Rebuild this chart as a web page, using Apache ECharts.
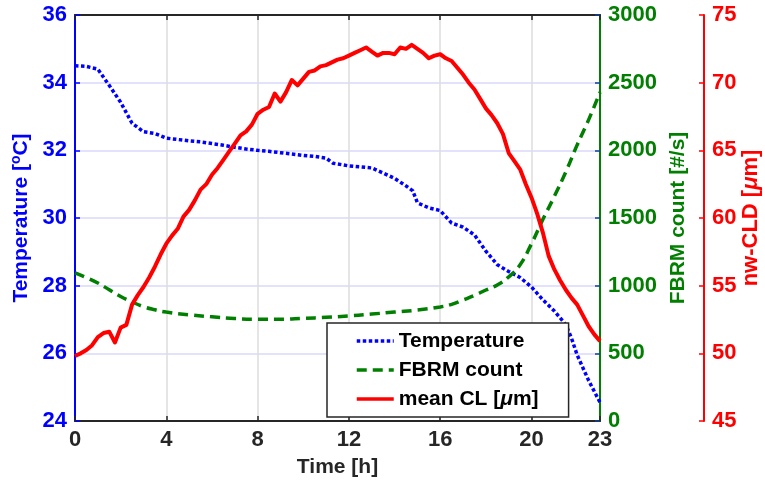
<!DOCTYPE html>
<html>
<head>
<meta charset="utf-8">
<script src="https://cdn.jsdelivr.net/npm/echarts@6/dist/echarts.min.js"></script>
<style>
  html, body { margin: 0; padding: 0; background: #ffffff; }
  #chart { width: 765px; height: 492px; }
</style>
</head>
<body>
<div id="chart"></div>
<script>
// Tick positions on the time axis
const xTicks = [0, 4, 8, 12, 16, 20, 23];

// Temperature [°C] vs time [h]
const tempTime = [0, 0.5, 1.0, 1.5, 2.0, 2.5, 3.0, 3.5, 4.0, 4.5, 5.0, 5.5, 6.0, 6.5, 7.0, 7.5, 8.0, 8.5, 9.0, 9.5,
  10.0, 10.5, 11.0, 11.3, 12.0, 12.5, 13.0, 13.5, 14.0, 14.5, 14.8, 15.0, 15.5, 16.0, 16.5, 17.0, 17.5, 18.0, 18.5,
  19.0, 19.5, 20.0, 20.5, 21.0, 21.5, 21.75, 22.0, 22.5, 23.0];
const tempValues = [34.50, 34.48, 34.40, 33.92, 33.42, 32.80, 32.55, 32.50, 32.36, 32.32, 32.28, 32.25, 32.20, 32.15,
  32.09, 32.04, 32.00, 31.97, 31.93, 31.89, 31.85, 31.82, 31.77, 31.62, 31.54, 31.51, 31.48, 31.33, 31.17, 30.95,
  30.80, 30.45, 30.30, 30.22, 29.85, 29.73, 29.50, 29.02, 28.62, 28.42, 28.24, 27.96, 27.58, 27.25, 26.85, 26.45,
  25.95, 25.20, 24.55];

// FBRM count [#/s] vs time [h]
const fbrmTime = [0, 0.5, 1, 1.5, 2, 2.5, 3, 3.5, 4, 5, 6, 7, 8, 9, 10, 11, 12, 13, 14, 15, 16, 16.5, 17, 17.5, 18,
  18.5, 19, 19.5, 20, 20.5, 21, 21.5, 22, 22.5, 23];
const fbrmValues = [1095, 1060, 1020, 970, 920, 880, 845, 822, 805, 785, 770, 757, 752, 752, 758, 766, 776, 790, 805,
  820, 843, 862, 894, 928, 968, 1005, 1065, 1155, 1310, 1490, 1660, 1840, 2040, 2225, 2430];

// Mean chord length nw-CLD [µm] vs time [h]
const clTime = [0, 0.25, 0.5, 0.75, 1.0, 1.25, 1.5, 1.75, 2.0, 2.25, 2.5, 2.75, 3.0, 3.25, 3.5, 3.75, 4.0, 4.25, 4.5,
  4.75, 5.0, 5.25, 5.5, 5.75, 6.0, 6.25, 6.5, 6.75, 7.0, 7.25, 7.5, 7.75, 8.0, 8.25, 8.5, 8.75, 9.0, 9.25, 9.5, 9.75,
  10.0, 10.25, 10.5, 10.75, 11.0, 11.25, 11.5, 11.75, 12.0, 12.25, 12.5, 12.75, 13.0, 13.25, 13.5, 13.75, 14.0, 14.25,
  14.5, 14.75, 15.0, 15.25, 15.5, 15.75, 16.0, 16.25, 16.5, 16.75, 17.0, 17.25, 17.5, 17.75, 18.0, 18.25, 18.5, 18.75,
  19.0, 19.25, 19.5, 19.75, 20.0, 20.25, 20.5, 20.75, 21.0, 21.25, 21.5, 21.75, 22.0, 22.25, 22.5, 22.75, 23.0];
const clValues = [49.8, 50.0, 50.25, 50.6, 51.2, 51.5, 51.6, 50.8, 51.9, 52.1, 53.6, 54.3, 54.9, 55.6, 56.4, 57.3,
  58.1, 58.7, 59.2, 60.1, 60.6, 61.3, 62.1, 62.5, 63.2, 63.7, 64.3, 64.9, 65.5, 66.1, 66.4, 66.9, 67.7, 68.0, 68.2,
  69.2, 68.6, 69.3, 70.2, 69.8, 70.3, 70.8, 70.9, 71.2, 71.3, 71.5, 71.7, 71.8, 72.0, 72.2, 72.4, 72.6, 72.3, 72.0,
  72.2, 72.2, 72.1, 72.6, 72.5, 72.8, 72.5, 72.2, 71.8, 72.0, 72.1, 71.8, 71.6, 71.1, 70.6, 70.0, 69.5, 68.8, 68.1,
  67.6, 67.0, 66.2, 64.8, 64.2, 63.6, 62.5, 61.5, 60.3, 58.9, 57.2, 56.2, 55.4, 54.7, 54.1, 53.6, 52.8, 52.0, 51.4,
  50.9];

const pairs = (xs, ys) => xs.map((x, i) => [x, ys[i]]);
const plain = (v) => String(v);

const FONT = "'Liberation Sans', Arial, sans-serif";
const BLUE = '#0000ff';
const GREEN = '#007f00';
const RED = '#ff0000';
const DARK = '#262626';

const chart = echarts.init(document.getElementById('chart'), null, { renderer: 'canvas' });

chart.setOption({
  animation: false,
  backgroundColor: '#ffffff',
  textStyle: { fontFamily: FONT },
  grid: { left: 75, right: 165, top: 15, bottom: 71, containLabel: false, outerBoundsMode: 'none' },
  legend: {
    orient: 'vertical',
    left: 327,
    top: 323,
    padding: [7, 30, 7, 28],
    itemWidth: 37,
    itemHeight: 14,
    itemGap: 7,
    borderColor: DARK,
    borderWidth: 1.5,
    backgroundColor: '#ffffff',
    itemStyle: { opacity: 0 },
    lineStyle: { width: 3.5 },
    formatter: (name) => name.replace('μ', '{it|μ}'),
    textStyle: {
      fontFamily: FONT, fontSize: 21, fontWeight: 'bold', color: '#000000', lineHeight: 22,
      rich: { it: { fontFamily: FONT, fontSize: 21, fontWeight: 'bold', fontStyle: 'italic', color: '#000000' } }
    },
    data: ['Temperature', 'FBRM count', 'mean CL [μm]']
  },
  xAxis: [
    {
      type: 'value', position: 'bottom', min: 0, max: 23, interval: 4,
      axisLine: { show: true, onZero: false, lineStyle: { color: DARK, width: 2 } },
      axisTick: { show: true, inside: true, length: 5, customValues: xTicks, lineStyle: { color: DARK, width: 1.5 } },
      axisLabel: { customValues: xTicks, margin: 8, fontFamily: FONT, fontSize: 22, fontWeight: 'bold', color: DARK, formatter: plain },
      splitLine: { show: true, lineStyle: { color: '#dcdcdc', width: 1.5 } },
      name: 'Time [h]', nameLocation: 'middle', nameGap: 36,
      nameTextStyle: { fontFamily: FONT, fontSize: 21, fontWeight: 'bold', color: DARK }
    },
    {
      type: 'value', position: 'top', min: 0, max: 23, interval: 4,
      axisLine: { show: true, onZero: false, lineStyle: { color: DARK, width: 2 } },
      axisTick: { show: true, inside: true, length: 5, customValues: xTicks, lineStyle: { color: DARK, width: 1.5 } },
      axisLabel: { show: false },
      splitLine: { show: false }
    }
  ],
  yAxis: [
    {
      type: 'value', position: 'left', min: 24, max: 36, interval: 2,
      axisLine: { show: true, onZero: false, lineStyle: { color: BLUE, width: 2 } },
      axisTick: { show: true, inside: true, length: 5, lineStyle: { color: BLUE, width: 1.5 } },
      axisLabel: { margin: 8, fontFamily: FONT, fontSize: 22, fontWeight: 'bold', color: BLUE, formatter: plain },
      splitLine: { show: true, lineStyle: { color: '#d8d8fc', width: 1.5 } },
      name: 'Temperature [{sup|o}C]', nameLocation: 'middle', nameGap: 41,
      nameTextStyle: {
        fontFamily: FONT, fontSize: 21, fontWeight: 'bold', color: BLUE,
        rich: { sup: { fontFamily: FONT, fontSize: 14, fontWeight: 'bold', color: BLUE, padding: [0, 0, 9, 0] } }
      }
    },
    {
      type: 'value', position: 'right', min: 0, max: 3000, interval: 500,
      axisLine: { show: true, onZero: false, lineStyle: { color: GREEN, width: 2 } },
      axisTick: { show: true, inside: true, length: 5, lineStyle: { color: '#1040a0', width: 1.5 } },
      axisLabel: { margin: 8, fontFamily: FONT, fontSize: 22, fontWeight: 'bold', color: GREEN, formatter: plain },
      splitLine: { show: false },
      name: 'FBRM count [#/s]', nameLocation: 'middle', nameGap: 67,
      nameTextStyle: { fontFamily: FONT, fontSize: 21, fontWeight: 'bold', color: GREEN }
    },
    {
      type: 'value', position: 'right', offset: 104, min: 45, max: 75, interval: 5,
      axisLine: { show: true, onZero: false, lineStyle: { color: RED, width: 2 } },
      axisTick: { show: true, inside: true, length: 5, lineStyle: { color: RED, width: 1.5 } },
      axisLabel: { margin: 8, fontFamily: FONT, fontSize: 22, fontWeight: 'bold', color: RED, formatter: plain },
      splitLine: { show: false },
      name: 'nw-CLD [{it|μ}m]', nameLocation: 'middle', nameGap: 36, nameMoveOverlap: false,
      nameTextStyle: {
        fontFamily: FONT, fontSize: 22, fontWeight: 'bold', color: RED,
        rich: { it: { fontFamily: FONT, fontSize: 22, fontWeight: 'bold', fontStyle: 'italic', color: RED } }
      }
    }
  ],
  series: [
    {
      name: 'Temperature', type: 'line', xAxisIndex: 0, yAxisIndex: 0,
      data: pairs(tempTime, tempValues),
      symbol: 'none', showSymbol: false, smooth: false,
      lineStyle: { color: BLUE, width: 3.5, type: [3.5, 2.5], cap: 'butt' },
      itemStyle: { color: BLUE },
      z: 3
    },
    {
      name: 'FBRM count', type: 'line', xAxisIndex: 0, yAxisIndex: 1,
      data: pairs(fbrmTime, fbrmValues),
      symbol: 'none', showSymbol: false, smooth: true,
      lineStyle: { color: GREEN, width: 3.5, type: [10, 6], cap: 'butt' },
      itemStyle: { color: GREEN },
      z: 4
    },
    {
      name: 'mean CL [μm]', type: 'line', xAxisIndex: 0, yAxisIndex: 2,
      data: pairs(clTime, clValues),
      symbol: 'none', showSymbol: false, smooth: false,
      lineStyle: { color: RED, width: 4, join: 'round' },
      itemStyle: { color: RED },
      z: 5
    }
  ]
});
</script>
</body>
</html>
